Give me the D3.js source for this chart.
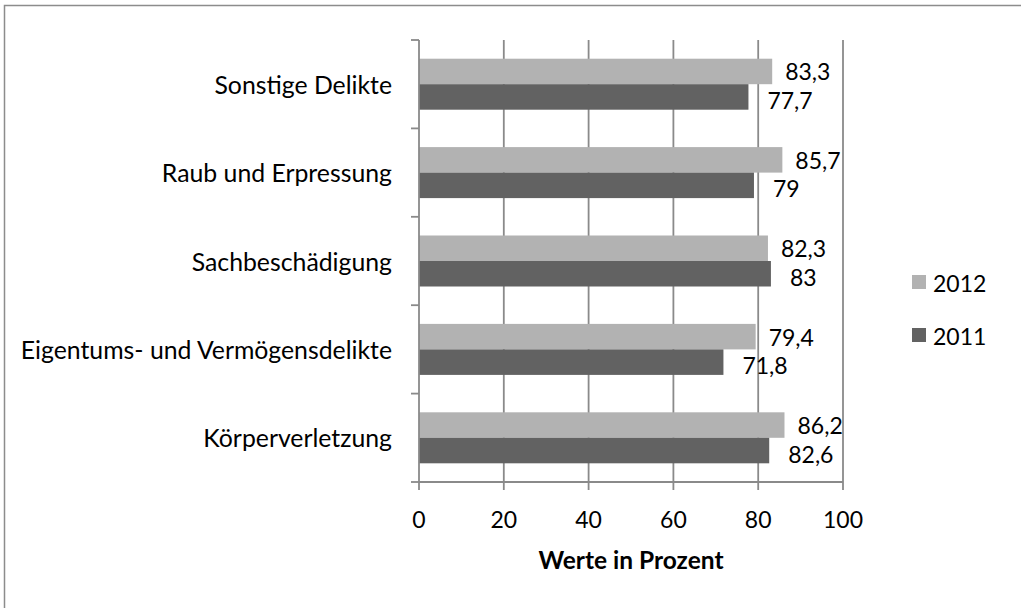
<!DOCTYPE html>
<html>
<head>
<meta charset="utf-8">
<script src="https://cdn.jsdelivr.net/npm/d3@7"></script>
<style>
  html, body { margin: 0; padding: 0; background: #fff; }
  svg { display: block; }
  text { font-family: Lato, "Open Sans", sans-serif; fill: #000; }
</style>
</head>
<body>
<svg id="chart" width="1021" height="608"></svg>
<script>
const categories = ["Sonstige Delikte", "Raub und Erpressung", "Sachbeschädigung", "Eigentums- und Vermögensdelikte", "Körperverletzung"];
const seriesNames = ["2012", "2011"];
const values2012 = [83.3, 85.7, 82.3, 79.4, 86.2];
const values2011 = [77.7, 79, 83, 71.8, 82.6];
const xTicks = [0, 20, 40, 60, 80, 100];
const axisTitle = "Werte in Prozent";

const seriesValues = { "2012": values2012, "2011": values2011 };
const colors = { "2012": "#b2b2b2", "2011": "#626262" };
const fmt = v => String(v).replace(".", ",");

const svg = d3.select("#chart");
const W = 1021, H = 608;

// outer border (only left/top visible in reference)
svg.append("rect").attr("x", 4.5).attr("y", 5.5).attr("width", W + 10).attr("height", H + 10)
  .attr("fill", "none").attr("stroke", "#8c8c8c").attr("stroke-width", 1.5);

const x = d3.scaleLinear().domain([0, 100]).range([419, 843]);
const y = d3.scaleBand().domain(categories).range([40, 482]).padding(0);
const groupH = 51;
const y1 = d3.scaleBand().domain(seriesNames)
  .range([(y.bandwidth() - groupH) / 2, (y.bandwidth() + groupH) / 2]).padding(0);

const gridColor = "#8a8a8a";

// vertical gridlines
svg.append("g").selectAll("line").data(xTicks.slice(1)).join("line")
  .attr("x1", d => x(d)).attr("x2", d => x(d))
  .attr("y1", 40).attr("y2", 482)
  .attr("stroke", gridColor).attr("stroke-width", 1.8);

// bars
const groups = svg.append("g").selectAll("g").data(categories).join("g")
  .attr("transform", d => `translate(0,${y(d)})`);

groups.selectAll("rect").data((c, i) => seriesNames.map(s => ({ s, v: seriesValues[s][i] })))
  .join("rect")
  .attr("x", x(0))
  .attr("y", d => y1(d.s))
  .attr("width", d => x(d.v) - x(0))
  .attr("height", y1.bandwidth())
  .attr("fill", d => colors[d.s]);

// value labels
const labelOffset = { "2012": 13, "2011": 19 };
const labelDy = { "2012": 0, "2011": 3 };
groups.selectAll("text.val").data((c, i) => seriesNames.map(s => ({ s, v: seriesValues[s][i] })))
  .join("text").attr("class", "val")
  .attr("x", d => x(d.v) + labelOffset[d.s])
  .attr("y", d => y1(d.s) + y1.bandwidth() / 2 + labelDy[d.s])
  .attr("dominant-baseline", "central")
  .attr("font-size", 23)
  .text(d => fmt(d.v));

// y axis
const yAxis = svg.append("g");
yAxis.append("line").attr("x1", x(0)).attr("x2", x(0)).attr("y1", 40).attr("y2", 482)
  .attr("stroke", gridColor).attr("stroke-width", 1.8);
const yTickPos = categories.map(c => y(c)).concat([y.range()[1]]);
yAxis.selectAll("line.tick").data(yTickPos).join("line").attr("class", "tick")
  .attr("x1", x(0) - 8).attr("x2", x(0)).attr("y1", d => d).attr("y2", d => d)
  .attr("stroke", gridColor).attr("stroke-width", 1.8);
yAxis.selectAll("text").data(categories).join("text")
  .attr("x", 392).attr("y", d => y(d) + y.bandwidth() / 2)
  .attr("text-anchor", "end").attr("dominant-baseline", "central")
  .attr("font-size", 24.8)
  .text(d => d);

// x axis
const xAxis = svg.append("g");
xAxis.append("line").attr("x1", x(0)).attr("x2", x(100)).attr("y1", 482).attr("y2", 482)
  .attr("stroke", gridColor).attr("stroke-width", 1.8);
xAxis.selectAll("line.tick").data(xTicks).join("line").attr("class", "tick")
  .attr("x1", d => x(d)).attr("x2", d => x(d)).attr("y1", 482).attr("y2", 490)
  .attr("stroke", gridColor).attr("stroke-width", 1.8);
xAxis.selectAll("text").data(xTicks).join("text")
  .attr("x", d => x(d)).attr("y", 519)
  .attr("text-anchor", "middle").attr("dominant-baseline", "central")
  .attr("font-size", 23)
  .text(d => d);

svg.append("text").attr("x", (x(0) + x(100)) / 2).attr("y", 559)
  .attr("text-anchor", "middle").attr("dominant-baseline", "central")
  .attr("font-size", 24.5).attr("font-weight", "bold")
  .text(axisTitle);

// legend
const legend = svg.append("g").selectAll("g").data(seriesNames).join("g")
  .attr("transform", (d, i) => `translate(912,${275 + i * 53})`);
legend.append("rect").attr("width", 14).attr("height", 14).attr("fill", d => colors[d]);
legend.append("text").attr("x", 21).attr("y", 8).attr("dominant-baseline", "central")
  .attr("font-size", 23).text(d => d);
</script>
</body>
</html>
